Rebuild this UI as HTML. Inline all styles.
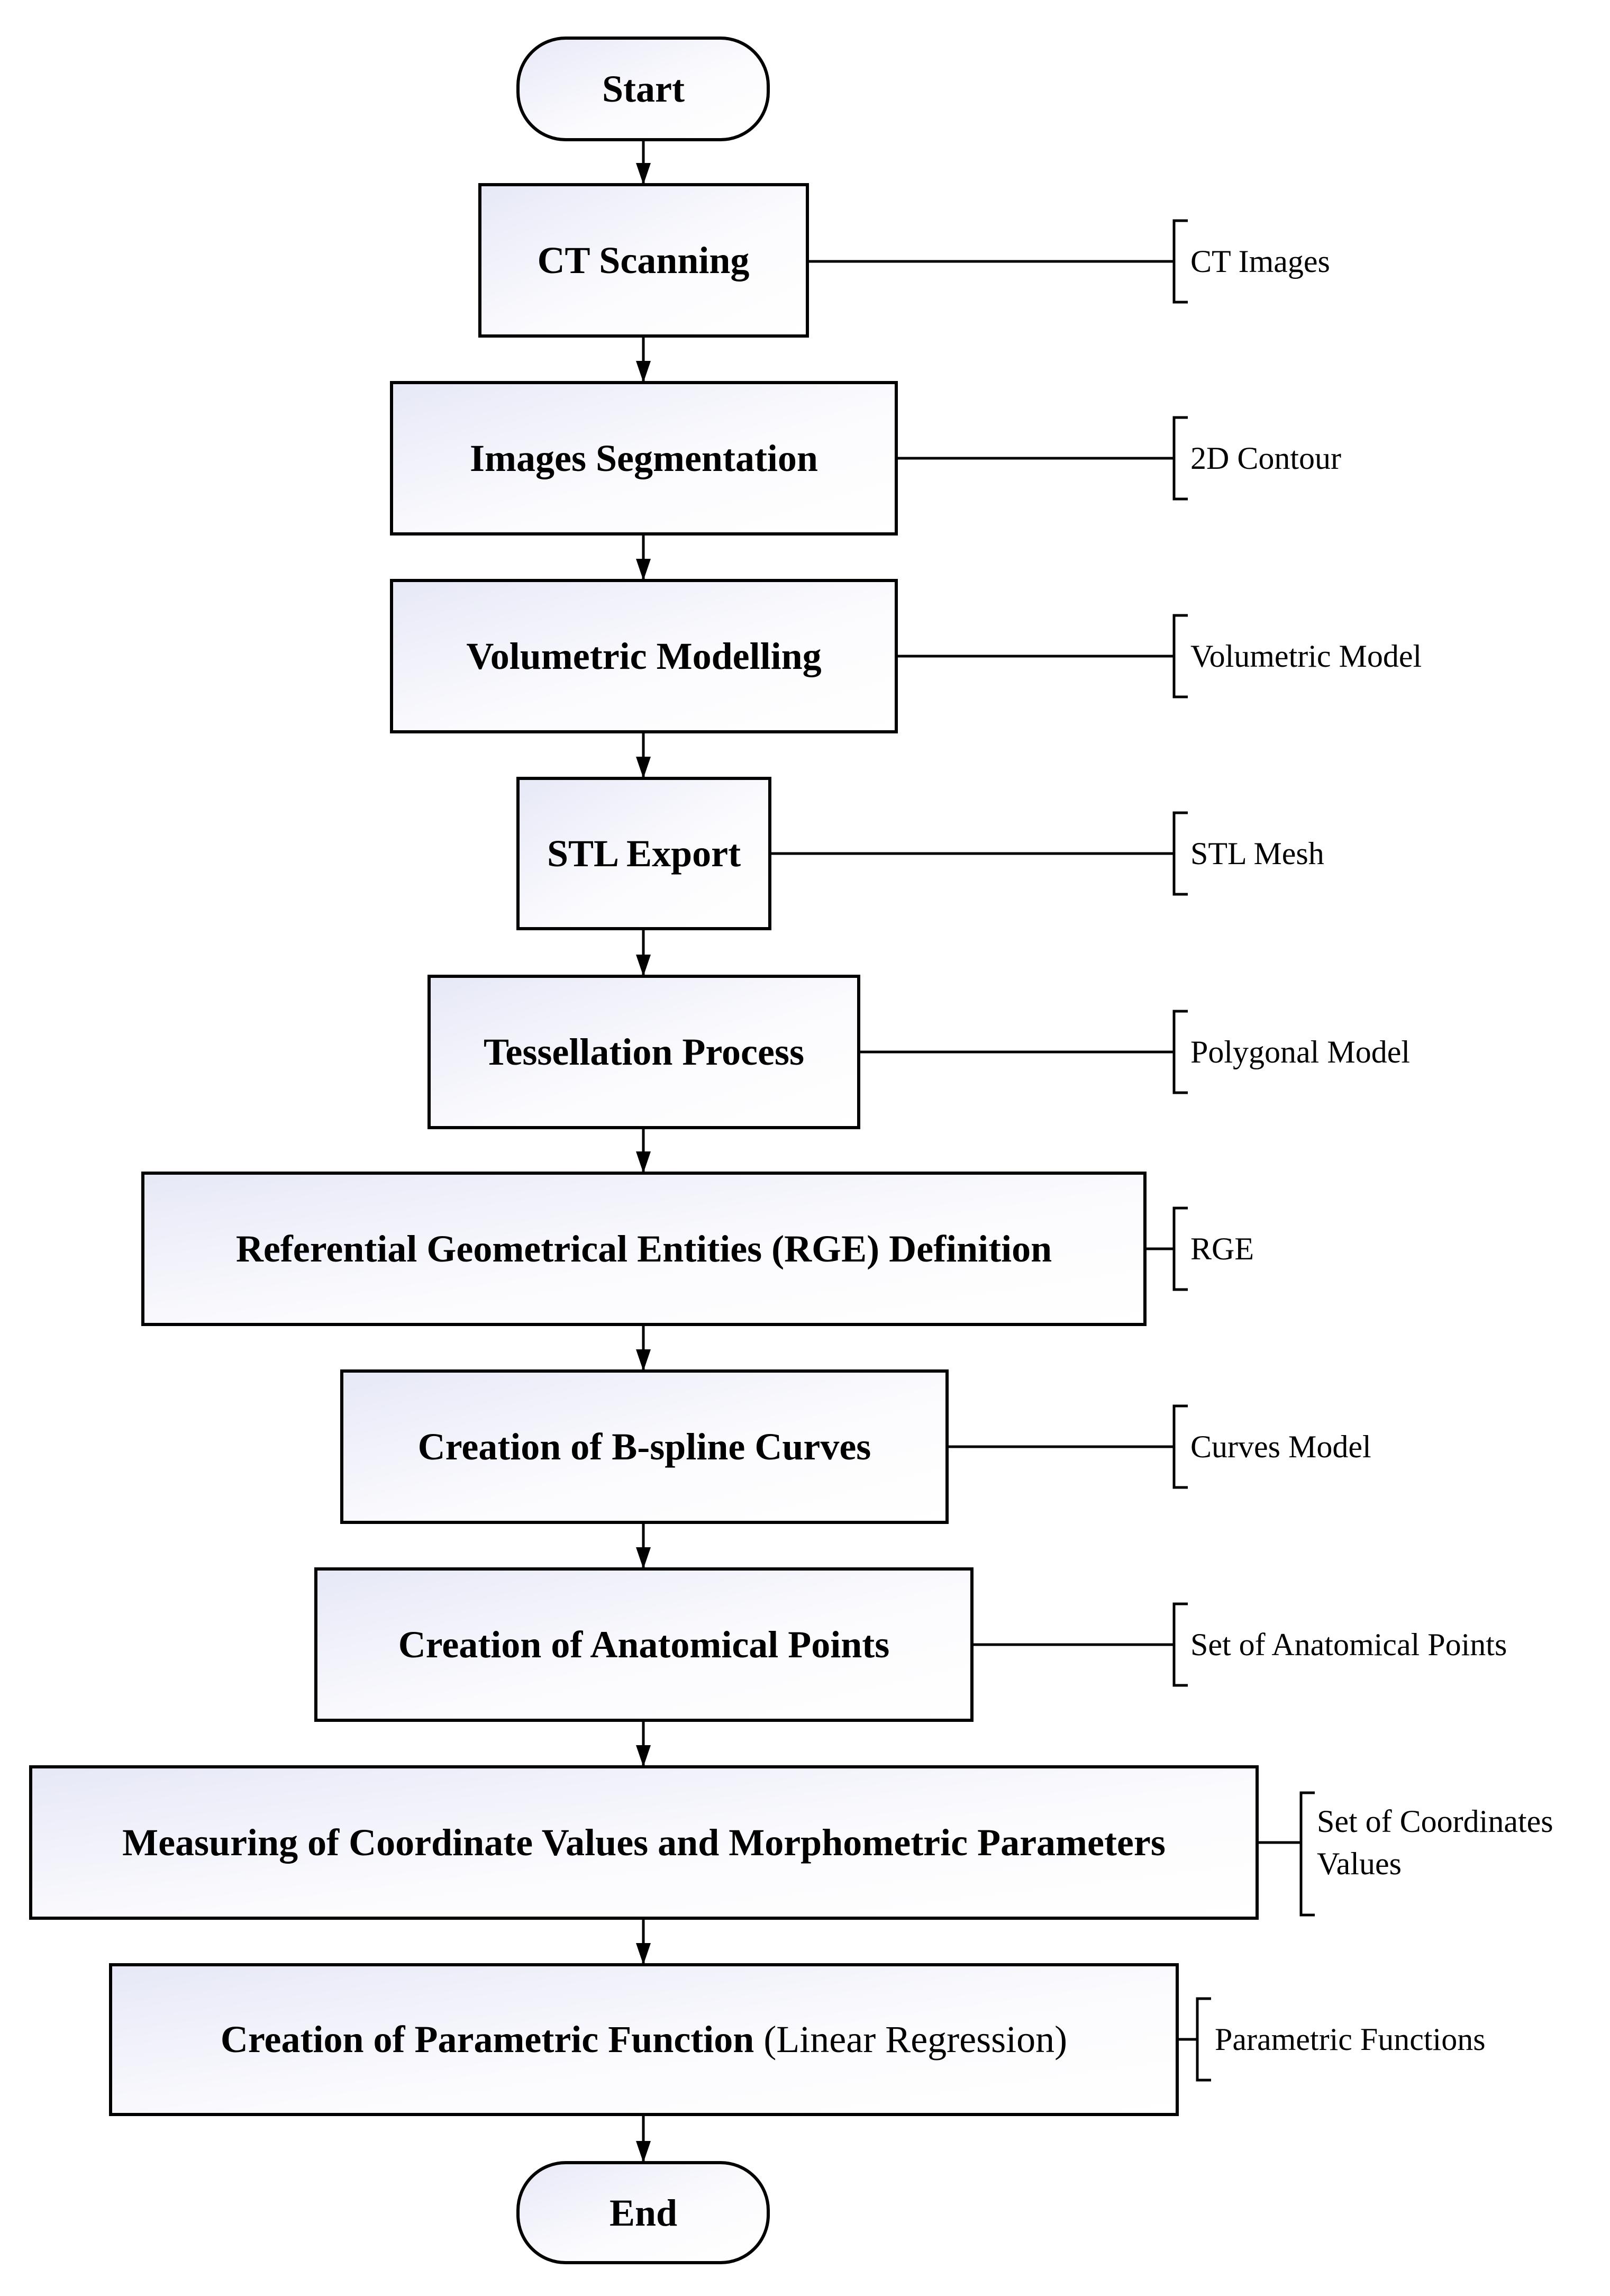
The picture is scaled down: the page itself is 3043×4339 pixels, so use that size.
<!DOCTYPE html>
<html><head><meta charset="utf-8"><style>html,body{margin:0;padding:0;background:#fff}svg{display:block}</style></head>
<body>
<svg width="3043" height="4339" viewBox="0 0 3043 4339" xmlns="http://www.w3.org/2000/svg">
<defs>
<linearGradient id="g" x1="0" y1="0" x2="1" y2="1"><stop offset="0" stop-color="#e6e8f6"/><stop offset="0.55" stop-color="#fbfbfe"/><stop offset="1" stop-color="#ffffff"/></linearGradient>
<marker id="a" viewBox="0 0 10 10" refX="10" refY="5" markerWidth="8" markerHeight="8" markerUnits="userSpaceOnUse" orient="auto"><path d="M0,0 L10,5 L0,10z" fill="#000"/></marker>
</defs>
<g font-family="Liberation Serif, serif">
<g stroke="#000" stroke-width="6" fill="url(#g)">
<rect x="979" y="72" width="473" height="192" rx="90" ry="90"/>
<rect x="907" y="349" width="619" height="286"/>
<rect x="740" y="723" width="954" height="286"/>
<rect x="740" y="1097" width="954" height="286"/>
<rect x="979" y="1471" width="476" height="284"/>
<rect x="811" y="1845" width="812" height="286"/>
<rect x="270" y="2217" width="1894" height="286"/>
<rect x="646" y="2591" width="1144" height="286"/>
<rect x="597" y="2965" width="1240" height="286"/>
<rect x="58" y="3339" width="2318" height="286"/>
<rect x="209" y="3713" width="2016" height="283"/>
<rect x="979" y="4087" width="473" height="189" rx="90" ry="90"/>
</g>
<g stroke="#000" stroke-width="5" fill="none">
<path d="M1216 264V349M1216 635V723M1216 1009V1097M1216 1383V1471M1216 1755V1845M1216 2131V2217M1216 2503V2591M1216 2877V2965M1216 3251V3339M1216 3625V3713M1216 3996V4087"/>
</g>
<g fill="#000">
<path d="M1202 308L1230 308L1216 349z"/><path d="M1202 682L1230 682L1216 723z"/><path d="M1202 1056L1230 1056L1216 1097z"/><path d="M1202 1430L1230 1430L1216 1471z"/><path d="M1202 1804L1230 1804L1216 1845z"/><path d="M1202 2176L1230 2176L1216 2217z"/><path d="M1202 2550L1230 2550L1216 2591z"/><path d="M1202 2924L1230 2924L1216 2965z"/><path d="M1202 3298L1230 3298L1216 3339z"/><path d="M1202 3672L1230 3672L1216 3713z"/><path d="M1202 4046L1230 4046L1216 4087z"/>
</g>
<g stroke="#000" stroke-width="5" fill="none">
<path d="M1526 494H2219M2245 417H2219V571H2245"/>
<path d="M1694 866H2219M2245 789H2219V943H2245"/>
<path d="M1694 1240H2219M2245 1163H2219V1317H2245"/>
<path d="M1455 1613H2219M2245 1536H2219V1690H2245"/>
<path d="M1623 1988H2219M2245 1911H2219V2065H2245"/>
<path d="M2164 2360H2219M2245 2283H2219V2437H2245"/>
<path d="M1790 2734H2219M2245 2657H2219V2811H2245"/>
<path d="M1837 3108H2219M2245 3031H2219V3185H2245"/>
<path d="M2376 3482H2459M2485 3388H2459V3619H2485"/>
<path d="M2225 3854H2263M2289 3777H2263V3931H2289"/>
</g>
<g font-weight="bold" font-size="72" text-anchor="middle">
<text x="1216" y="192">Start</text>
<text x="1216" y="516">CT Scanning</text>
<text x="1217" y="890">Images Segmentation</text>
<text x="1217" y="1264">Volumetric Modelling</text>
<text x="1217" y="1637">STL Export</text>
<text x="1217" y="2012">Tessellation Process</text>
<text x="1217" y="2384">Referential Geometrical Entities (RGE) Definition</text>
<text x="1218" y="2758">Creation of B-spline Curves</text>
<text x="1217" y="3132">Creation of Anatomical Points</text>
<text x="1217" y="3506">Measuring of Coordinate Values and Morphometric Parameters</text>
<text x="1217" y="3878">Creation of Parametric Function <tspan font-weight="normal">(Linear Regression)</tspan></text>
<text x="1216" y="4206">End</text>
</g>
<g font-size="60">
<text x="2250" y="514">CT Images</text>
<text x="2250" y="886">2D Contour</text>
<text x="2250" y="1260">Volumetric Model</text>
<text x="2250" y="1633">STL Mesh</text>
<text x="2250" y="2008">Polygonal Model</text>
<text x="2250" y="2380">RGE</text>
<text x="2250" y="2754">Curves Model</text>
<text x="2250" y="3128">Set of Anatomical Points</text>
<text x="2489" y="3462">Set of Coordinates</text>
<text x="2489" y="3542">Values</text>
<text x="2296" y="3874">Parametric Functions</text>
</g>
</g>
</svg>
</body></html>
